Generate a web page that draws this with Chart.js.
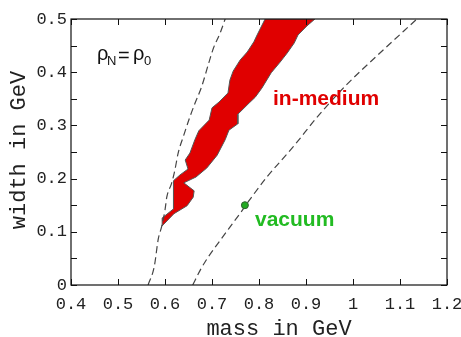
<!DOCTYPE html>
<html>
<head>
<meta charset="utf-8">
<script src="https://cdn.jsdelivr.net/npm/chart.js@4.4.1/dist/chart.umd.min.js"></script>
<style>
    html, body { margin: 0; padding: 0; background: #fff; }
    .chart-box { position: relative; width: 461px; height: 337px; }
</style>
</head>
<body>
<div class="chart-box"><canvas id="widthChart"></canvas></div>
<script>
// Axis ticks
const massTicks = [0.4, 0.5, 0.6, 0.7, 0.8, 0.9, 1.0, 1.1, 1.2];
const massLabels = ['0.4', '0.5', '0.6', '0.7', '0.8', '0.9', '1', '1.1', '1.2'];
const widthTicks = [0, 0.1, 0.2, 0.3, 0.4, 0.5];
const widthLabels = ['0', '0.1', '0.2', '0.3', '0.4', '0.5'];
const widthMinorTicks = [0.05, 0.15, 0.25, 0.35, 0.45];

// In-medium region outline (left edge going up, then right edge coming down)
const regionMass = [
    0.594, 0.594, 0.618, 0.618, 0.632, 0.649, 0.643, 0.653, 0.664, 0.672,
    0.694, 0.700, 0.715, 0.734, 0.738, 0.745, 0.760, 0.775, 0.789, 0.796, 0.813,
    0.919, 0.902, 0.883, 0.875, 0.860, 0.845, 0.826, 0.806, 0.792, 0.779,
    0.755, 0.755, 0.736, 0.728, 0.711, 0.689, 0.666, 0.640, 0.662, 0.660,
    0.647, 0.619, 0.596, 0.594
];
const regionWidth = [
    0.111, 0.126, 0.143, 0.196, 0.207, 0.218, 0.235, 0.248, 0.274, 0.290,
    0.310, 0.333, 0.344, 0.361, 0.385, 0.402, 0.423, 0.438, 0.457, 0.470, 0.500,
    0.500, 0.487, 0.470, 0.455, 0.436, 0.419, 0.399, 0.370, 0.353, 0.342,
    0.321, 0.303, 0.291, 0.273, 0.244, 0.220, 0.203, 0.192, 0.177, 0.165,
    0.149, 0.134, 0.113, 0.111
];

// Dashed boundary curves
const leftCurveMass = [0.564, 0.577, 0.586, 0.593, 0.600, 0.604, 0.614, 0.621, 0.628, 0.639, 0.653, 0.664, 0.678, 0.694, 0.703, 0.717, 0.728];
const leftCurveWidth = [0, 0.034, 0.088, 0.110, 0.141, 0.166, 0.191, 0.216, 0.248, 0.279, 0.316, 0.342, 0.373, 0.420, 0.445, 0.473, 0.500];
const rightCurveMass = [0.659, 0.675, 0.690, 0.710, 0.735, 0.760, 0.780, 0.816, 0.873, 0.926, 0.987, 1.050, 1.136];
const rightCurveWidth = [0, 0.028, 0.050, 0.075, 0.105, 0.135, 0.160, 0.202, 0.260, 0.318, 0.377, 0.430, 0.500];

// Vacuum rho
const vacuumMass = [0.770];
const vacuumWidth = [0.150];

const toPoints = (xs, ys) => xs.map((x, i) => ({ x: x, y: ys[i] }));

const monoFont = '"Liberation Mono", "DejaVu Sans Mono", monospace';
const sansFont = '"Liberation Sans", Arial, sans-serif';

// Frame, inward ticks, axis titles and labels
const framePlugin = {
    id: 'frame',
    afterDraw(chart) {
        const { ctx, chartArea: a, scales: { x, y } } = chart;
        ctx.save();
        ctx.strokeStyle = '#111';
        ctx.lineWidth = 1.2;
        ctx.strokeRect(a.left, a.top, a.right - a.left, a.bottom - a.top);

        ctx.beginPath();
        massTicks.forEach(v => {
            const px = Math.round(x.getPixelForValue(v)) + 0.5;
            ctx.moveTo(px, a.bottom); ctx.lineTo(px, a.bottom - 6);
            ctx.moveTo(px, a.top); ctx.lineTo(px, a.top + 6);
        });
        widthTicks.concat(widthMinorTicks).forEach(v => {
            const py = Math.round(y.getPixelForValue(v)) + 0.5;
            ctx.moveTo(a.left, py); ctx.lineTo(a.left + 6, py);
            ctx.moveTo(a.right, py); ctx.lineTo(a.right - 6, py);
        });
        ctx.lineWidth = 1;
        ctx.stroke();

        // axis titles
        ctx.fillStyle = '#222';
        ctx.font = '22px ' + monoFont;
        ctx.textAlign = 'center';
        ctx.textBaseline = 'alphabetic';
        ctx.fillText('mass in GeV', 279, 335);
        ctx.save();
        ctx.translate(25, 150);
        ctx.rotate(-Math.PI / 2);
        ctx.fillText('width in GeV', 0, 0);
        ctx.restore();

        // density label
        ctx.fillStyle = '#111';
        ctx.textAlign = 'left';
        ctx.font = '20px ' + sansFont;
        ctx.fillText('\u03C1', 97, 60);
        ctx.fillText('=', 118, 62);
        ctx.fillText('\u03C1', 133, 60);
        ctx.font = '13px ' + sansFont;
        ctx.fillText('N', 107, 65);
        ctx.fillText('0', 144, 65);

        ctx.font = 'bold 21px ' + sansFont;
        ctx.fillStyle = '#e00000';
        ctx.fillText('in-medium', 273, 105);
        ctx.fillStyle = '#22bb22';
        ctx.fillText('vacuum', 255, 226);
        ctx.restore();
    }
};

new Chart(document.getElementById('widthChart'), {
    type: 'line',
    data: {
        datasets: [
            {
                label: 'vacuum',
                data: toPoints(vacuumMass, vacuumWidth),
                showLine: false,
                pointRadius: 3.5,
                pointBackgroundColor: '#22aa22',
                pointBorderColor: '#2f5f2f',
                pointBorderWidth: 1,
                order: 0
            },
            {
                label: 'left bound',
                data: toPoints(leftCurveMass, leftCurveWidth),
                borderColor: '#444',
                borderWidth: 1.2,
                borderDash: [7, 4],
                cubicInterpolationMode: 'monotone',
                pointRadius: 0,
                fill: false,
                order: 1
            },
            {
                label: 'right bound',
                data: toPoints(rightCurveMass, rightCurveWidth),
                borderColor: '#444',
                borderWidth: 1.2,
                borderDash: [7, 4],
                cubicInterpolationMode: 'monotone',
                pointRadius: 0,
                fill: false,
                order: 1
            },
            {
                label: 'in-medium',
                data: toPoints(regionMass, regionWidth),
                borderColor: '#555',
                borderWidth: 1,
                backgroundColor: '#e00000',
                fill: 'shape',
                tension: 0,
                pointRadius: 0,
                order: 2
            }
        ]
    },
    options: {
        responsive: true,
        maintainAspectRatio: false,
        animation: false,
        layout: { padding: { top: 19, right: 14, bottom: 0, left: 0 } },
        plugins: {
            legend: { display: false },
            tooltip: { enabled: false }
        },
        scales: {
            x: {
                type: 'linear',
                min: 0.4,
                max: 1.2,
                afterBuildTicks: scale => { scale.ticks = massTicks.map(v => ({ value: v })); },
                afterFit: scale => { scale.height = 52; scale.paddingLeft = 0; scale.paddingRight = 0; },
                ticks: {
                    callback: value => massLabels[massTicks.indexOf(value)],
                    font: { family: monoFont, size: 17 },
                    color: '#222',
                    padding: 9,
                    maxRotation: 0,
                    autoSkip: false
                },
                grid: { drawOnChartArea: false, drawTicks: false },
                border: { display: false }
            },
            y: {
                type: 'linear',
                min: 0,
                max: 0.5,
                afterBuildTicks: scale => { scale.ticks = widthTicks.map(v => ({ value: v })); },
                afterFit: scale => { scale.width = 71; scale.paddingTop = 0; scale.paddingBottom = 0; },
                ticks: {
                    callback: value => widthLabels[widthTicks.indexOf(value)],
                    font: { family: monoFont, size: 17 },
                    color: '#222',
                    padding: 4,
                    autoSkip: false
                },
                grid: { drawOnChartArea: false, drawTicks: false },
                border: { display: false }
            }
        }
    },
    plugins: [framePlugin]
});
</script>
</body>
</html>
